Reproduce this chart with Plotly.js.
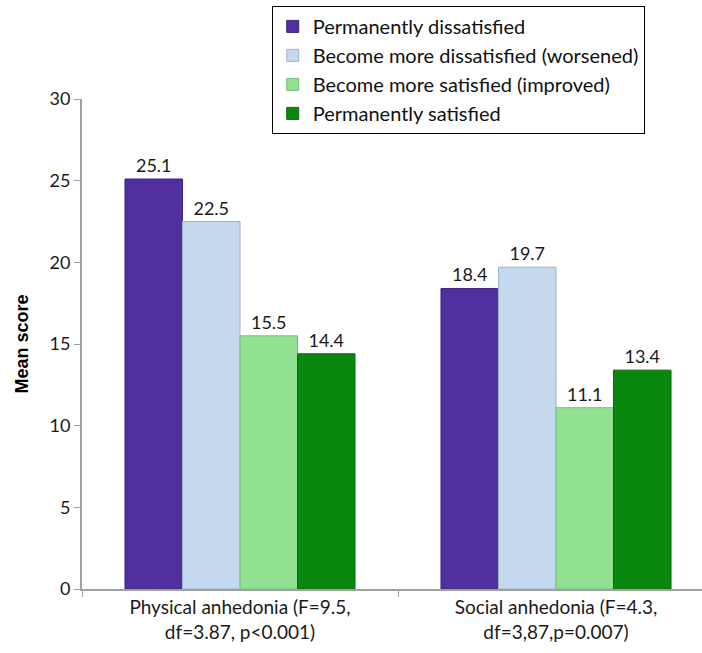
<!DOCTYPE html>
<html>
<head>
<meta charset="utf-8">
<script src="https://cdn.plot.ly/plotly-3.0.1.min.js"></script>
<style>html,body{margin:0;padding:0;background:#fff;}#chart{width:702px;height:653px;}</style>
</head>
<body>
<div id="chart"></div>
<script>
const categories = ["Physical anhedonia (F=9.5,<br>df=3.87, p<0.001)", "Social anhedonia (F=4.3,<br>df=3,87,p=0.007)"];
const seriesNames = ["Permanently dissatisfied", "Become more dissatisfied (worsened)", "Become more satisfied (improved)", "Permanently satisfied"];
const permanentlyDissatisfied = [25.1, 18.4];
const becomeMoreDissatisfied = [22.5, 19.7];
const becomeMoreSatisfied = [15.5, 11.1];
const permanentlySatisfied = [14.4, 13.4];
const yTicks = [0, 5, 10, 15, 20, 25, 30];

const seriesValues = [permanentlyDissatisfied, becomeMoreDissatisfied, becomeMoreSatisfied, permanentlySatisfied];
const fills = ["#50309E", "#C4D8EE", "#92E192", "#0A880E"];
const edges = ["#3d2380", "#9fb3cc", "#73c273", "#086a0b"];
const FONT = "Lato, 'Open Sans', sans-serif";

const traces = seriesValues.map((vals, i) => ({
  type: "bar",
  name: seriesNames[i],
  legendgroup: "g" + i,
  x: categories,
  y: vals,
  text: vals.map(v => v.toFixed(1)),
  textposition: "outside",
  cliponaxis: false,
  textfont: {family: FONT, size: 18, color: "#1a1a1a"},
  marker: {color: fills[i], line: {color: edges[i], width: 1}},
  hoverinfo: "skip"
}));

const layout = {
  width: 702,
  height: 653,
  margin: {l: 82, r: 0, t: 99, b: 64},
  paper_bgcolor: "#ffffff",
  plot_bgcolor: "#ffffff",
  barmode: "group",
  bargap: 0.272,
  bargroupgap: 0,
  showlegend: true,
  legend: {
    x: 0.306, y: 1.19, xanchor: "left", yanchor: "top",
    bordercolor: "#000000", borderwidth: 1,
    font: {family: FONT, size: 20, color: "#111"},
    tracegroupgap: 0,
    traceorder: "grouped"
  },
  xaxis: {
    type: "category",
    range: [-0.5, 1.462],
    showline: true, linecolor: "#a0a0a0", linewidth: 2,
    ticks: "outside", tickson: "boundaries", ticklen: 6, tickcolor: "#a0a0a0",
    tickfont: {family: FONT, size: 19, color: "#1a1a1a"},
    showgrid: false, zeroline: false, fixedrange: true
  },
  yaxis: {
    range: [0, 30],
    tickvals: yTicks,
    ticktext: yTicks.map(String),
    showline: true, linecolor: "#a0a0a0", linewidth: 2,
    ticks: "outside", ticklen: 6, tickcolor: "#a0a0a0",
    tickfont: {family: FONT, size: 18, color: "#1a1a1a"},
    showgrid: false, zeroline: false,
    title: {text: "Mean score", font: {family: "Arial, 'Liberation Sans', sans-serif", size: 18, color: "#000", weight: "bold"}, standoff: 16}
  }
};

Plotly.newPlot("chart", traces, layout, {staticPlot: true});
</script>
</body>
</html>
